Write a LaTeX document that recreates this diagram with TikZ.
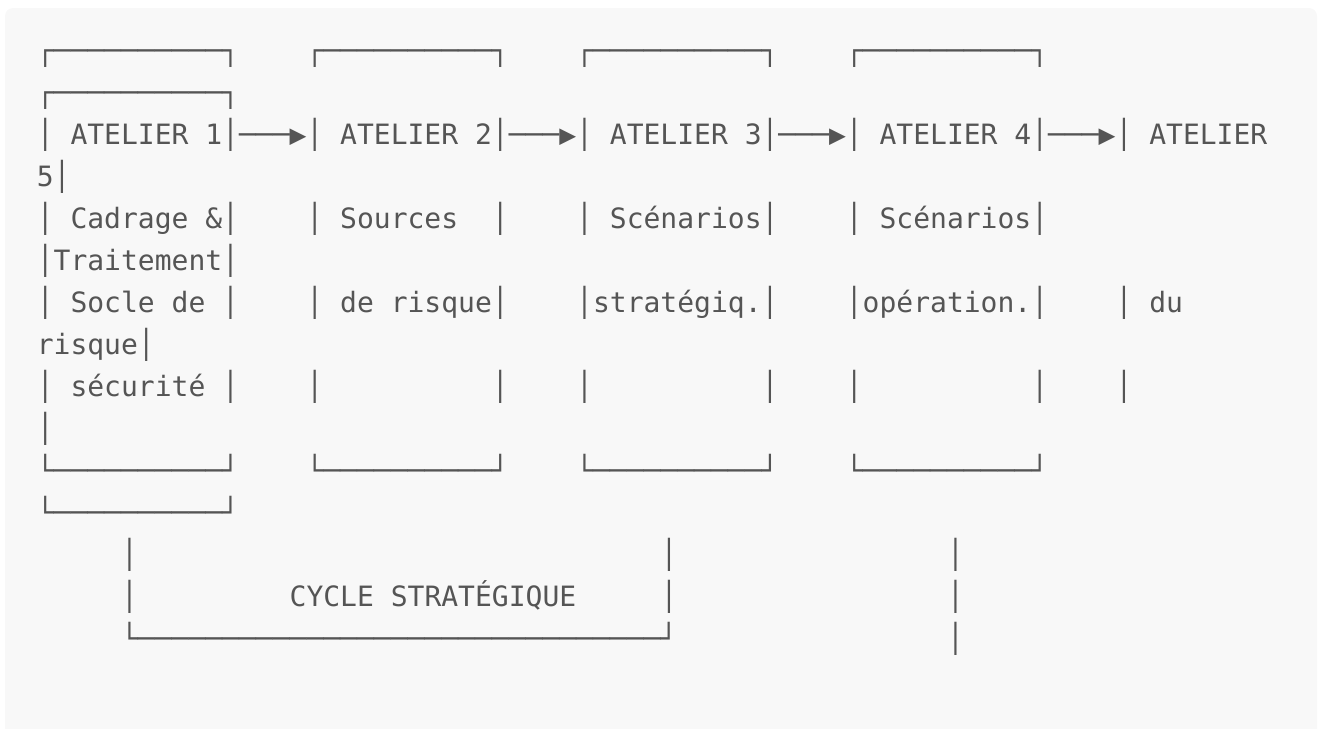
\documentclass[tikz,border=0pt]{standalone}
\usepackage{fontspec}
\setmonofont{DejaVu Sans Mono}
\usepackage{xcolor}
\usepackage{tikz}
\definecolor{codebg}{HTML}{F8F8F8}
\definecolor{codefg}{HTML}{555555}

\begin{document}
\begin{tikzpicture}[x=1pt, y=-1pt,
        row/.style={anchor=base west, inner sep=0pt, text=codefg,
                    font=\fontsize{28}{42}\selectfont\ttfamily\frenchspacing}
      ]
        \def\xo{36.6}  % left edge of the first column
        \def\yo{18.7}  % baseline offset
        \def\rh{42}    % row pitch
        \useasboundingbox (0,0) rectangle (1322,728);
        % code block background
        \begin{scope}
          \clip (0,0) rectangle (1322,728);
          \fill[codebg, rounded corners=8pt] (5,8) rectangle (1317,745);
        \end{scope}
        % atelier boxes
        \node[row] (r1) at (\xo,\yo+1*\rh) {┌──────────┐~~~~┌──────────┐~~~~┌──────────┐~~~~┌──────────┐};
        \node[row] (r2) at (\xo,\yo+2*\rh) {┌──────────┐};
        \node[row] (r3) at (\xo,\yo+3*\rh) {│~ATELIER~1│───▶│~ATELIER~2│───▶│~ATELIER~3│───▶│~ATELIER~4│───▶│~ATELIER};
        \node[row] (r4) at (\xo,\yo+4*\rh) {5│};
        \node[row] (r5) at (\xo,\yo+5*\rh) {│~Cadrage~\&│~~~~│~Sources~~│~~~~│~Scénarios│~~~~│~Scénarios│};
        \node[row] (r6) at (\xo,\yo+6*\rh) {│Traitement│};
        \node[row] (r7) at (\xo,\yo+7*\rh) {│~Socle~de~│~~~~│~de~risque│~~~~│stratégiq.│~~~~│opération.│~~~~│~du};
        \node[row] (r8) at (\xo,\yo+8*\rh) {risque│};
        \node[row] (r9) at (\xo,\yo+9*\rh) {│~sécurité~│~~~~│~~~~~~~~~~│~~~~│~~~~~~~~~~│~~~~│~~~~~~~~~~│~~~~│};
        \node[row] (r10) at (\xo,\yo+10*\rh) {│};
        \node[row] (r11) at (\xo,\yo+11*\rh) {└──────────┘~~~~└──────────┘~~~~└──────────┘~~~~└──────────┘};
        \node[row] (r12) at (\xo,\yo+12*\rh) {└──────────┘};
        % strategic cycle bracket
        \node[row] (r13) at (\xo,\yo+13*\rh) {~~~~~│~~~~~~~~~~~~~~~~~~~~~~~~~~~~~~~│~~~~~~~~~~~~~~~~│};
        \node[row] (r14) at (\xo,\yo+14*\rh) {~~~~~│~~~~~~~~~CYCLE~STRATÉGIQUE~~~~~│~~~~~~~~~~~~~~~~│};
        \node[row] (r15) at (\xo,\yo+15*\rh) {~~~~~└───────────────────────────────┘~~~~~~~~~~~~~~~~│};
      \end{tikzpicture}
\end{document}
